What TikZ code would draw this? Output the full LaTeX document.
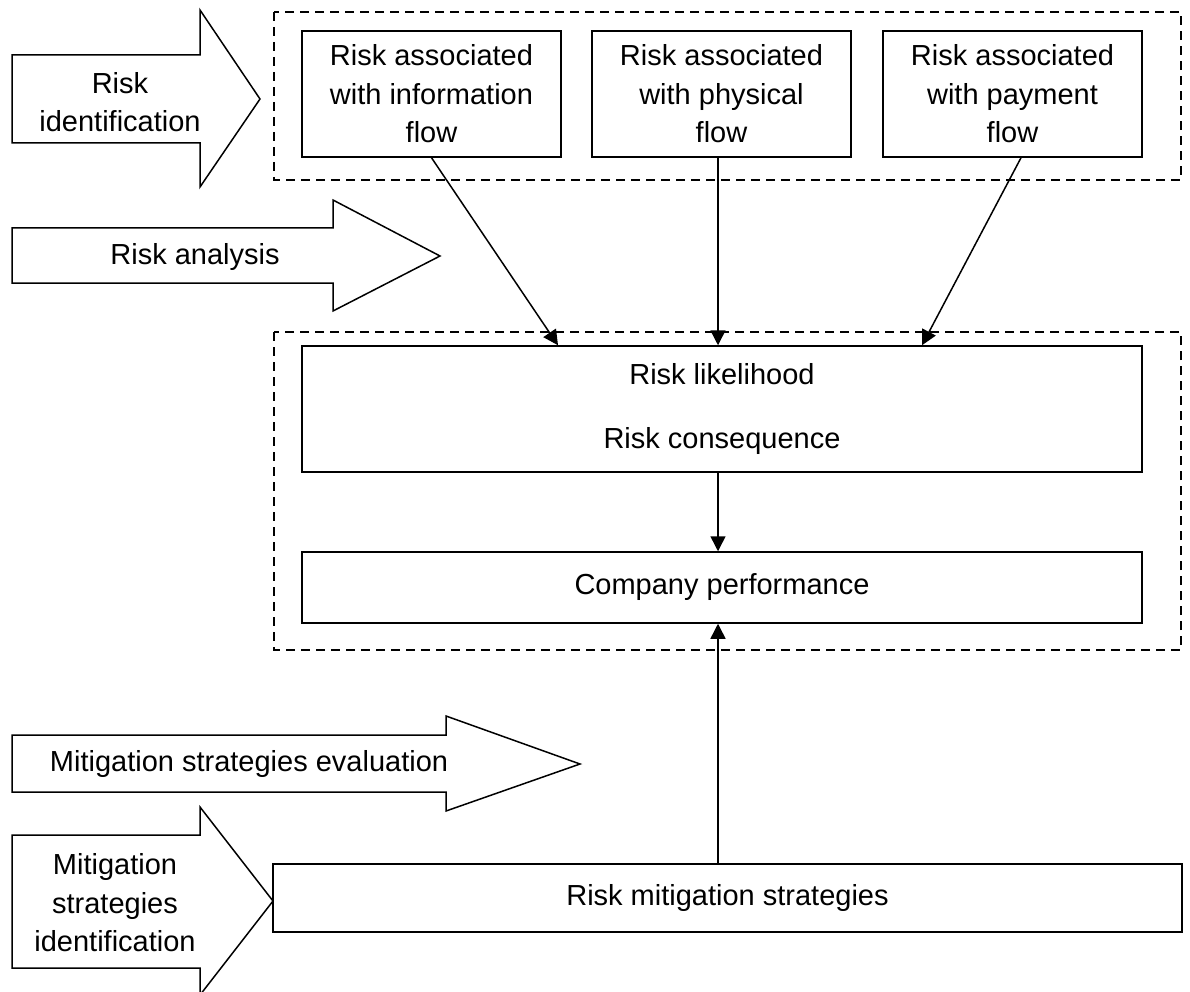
\documentclass[tikz,border=0pt]{standalone}
\usepackage{fontspec}
\setmainfont{Liberation Sans}
\usetikzlibrary{arrows.meta,calc}
\begin{document}
\begin{tikzpicture}[x=1pt,y=-1pt,
  every node/.style={font=\fontsize{29}{38.5}\selectfont, text=black},
  box/.style={draw, line width=1.5pt, inner sep=0pt, align=center},
  group/.style={draw, line width=1.3pt, dash pattern=on 9pt off 6pt},
  blockarrow/.style={draw, line width=1.5pt, fill=white, line join=miter},
  conn/.style={line width=1.5pt, -{Triangle[length=15pt,width=15pt]}},
  lbl/.style={align=center, inner sep=0pt}]
\useasboundingbox (0,0) rectangle (1190,992);

% dashed groups
\draw[group] (274,12) rectangle (1181,180);
\draw[group] (274,332) rectangle (1181,650);

% boxes
\node[box, minimum width=259pt, minimum height=126pt] (info) at (431.5,94) {Risk associated\\with information\\flow};
\node[box, minimum width=259pt, minimum height=126pt] (phys) at (721.5,94) {Risk associated\\with physical\\flow};
\node[box, minimum width=259pt, minimum height=126pt] (pay) at (1012.5,94) {Risk associated\\with payment\\flow};
\node[box, minimum width=840pt, minimum height=126pt] (lik) at (722,409) {Risk likelihood\\[26pt]Risk consequence};
\node[box, minimum width=840pt, minimum height=71pt] (comp) at (722,587.5) {Company performance};
\node[box, minimum width=909pt, minimum height=68pt] (mit) at (727.5,898) {Risk mitigation strategies};

% block arrows
\draw[blockarrow] (12,55) -- (200,55) -- (200,10) -- (260,99) -- (200,187) -- (200,143) -- (12,143) -- cycle;
\node[lbl] (rid) at (120,102) {Risk\\identification};
\draw[blockarrow] (12,228) -- (333,228) -- (333,200) -- (440,256) -- (333,311) -- (333,283) -- (12,283) -- cycle;
\node[lbl] (ran) at (195,257) {Risk analysis};
\draw[blockarrow] (12,735) -- (446,735) -- (446,716) -- (580,764) -- (446,811) -- (446,792) -- (12,792) -- cycle;
\node[lbl] (mev) at (249,764) {Mitigation strategies evaluation};
\draw[blockarrow] (12,835) -- (200,835) -- (200,807) -- (273,901) -- (200,995) -- (200,968) -- (12,968) -- cycle;
\node[lbl] (mid) at (115,903) {Mitigation\\strategies\\identification};

% connectors
\draw[conn] (info.south) -- ($(lik.north)+(-164,0)$);
\draw[conn] ([xshift=-3.5pt]phys.south) -- ([xshift=-3.5pt]phys.south |- lik.north);
\draw[conn] ([xshift=8.5pt]pay.south) -- ($(lik.north)+(200,0)$);
\draw[conn] ([xshift=-4pt]lik.south) -- ([xshift=-4pt]comp.north);
\draw[conn] ([xshift=-4pt]comp.south |- mit.north) -- ([xshift=-4pt]comp.south);
\end{tikzpicture}
\end{document}
